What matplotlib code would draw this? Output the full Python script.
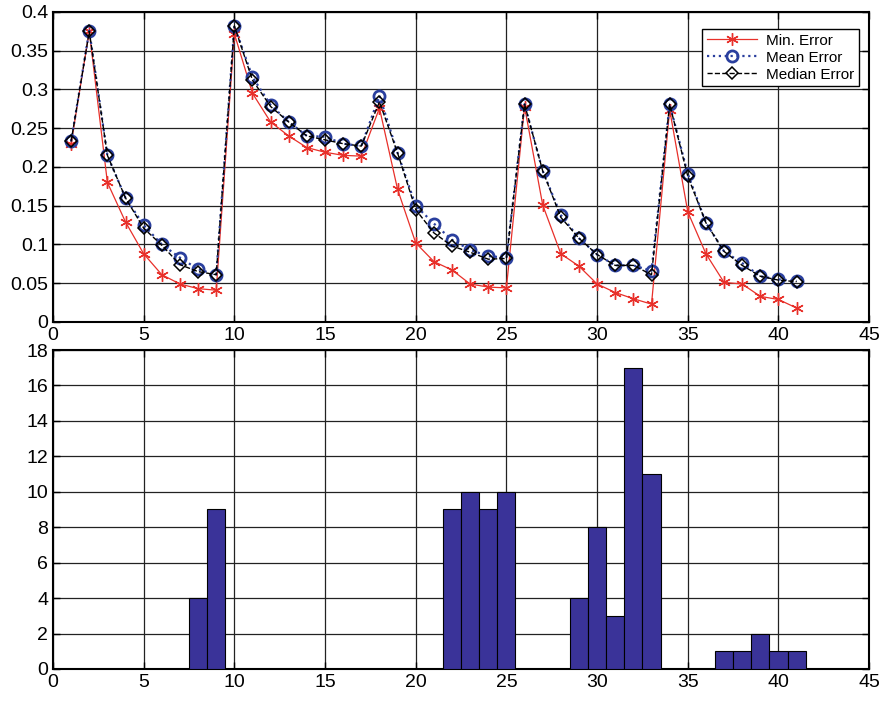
import numpy as np
import matplotlib.pyplot as plt

# top panel: error curves
x = list(range(1, 42))
min_err = [0.230, 0.375, 0.180, 0.129, 0.088, 0.061, 0.049, 0.043, 0.041,
           0.372, 0.295, 0.258, 0.240, 0.225, 0.219, 0.215, 0.214,
           0.276, 0.171, 0.102, 0.078, 0.067, 0.049, 0.045, 0.044,
           0.278, 0.151, 0.088, 0.072, 0.049, 0.038, 0.030, 0.023,
           0.274, 0.142, 0.088, 0.051, 0.049, 0.033, 0.029, 0.018]
mean_err = [0.233, 0.376, 0.215, 0.160, 0.125, 0.100, 0.083, 0.068, 0.061,
            0.382, 0.316, 0.280, 0.258, 0.240, 0.239, 0.230, 0.227,
            0.292, 0.218, 0.150, 0.127, 0.106, 0.093, 0.085, 0.083,
            0.281, 0.195, 0.138, 0.108, 0.087, 0.073, 0.073, 0.066,
            0.281, 0.191, 0.128, 0.091, 0.076, 0.059, 0.055, 0.053]
median_err = [0.233, 0.375, 0.215, 0.160, 0.121, 0.099, 0.074, 0.065, 0.061,
              0.382, 0.312, 0.278, 0.258, 0.240, 0.235, 0.230, 0.227,
              0.284, 0.218, 0.145, 0.115, 0.098, 0.090, 0.081, 0.082,
              0.281, 0.195, 0.135, 0.108, 0.087, 0.073, 0.073, 0.061,
              0.281, 0.188, 0.128, 0.091, 0.073, 0.059, 0.054, 0.052]

# bottom panel: histogram counts
bar_x = [8, 9, 22, 23, 24, 25, 29, 30, 31, 32, 33, 37, 38, 39, 40, 41]
bar_h = [4, 9, 9, 10, 9, 10, 4, 8, 3, 17, 11, 1, 1, 2, 1, 1]

plt.rcParams['font.family'] = ['Liberation Sans', 'DejaVu Sans']

fig = plt.figure(figsize=(8.92, 7.01), dpi=100)
ax1 = fig.add_axes([0.0594, 0.5407, 0.915, 0.4422])
ax2 = fig.add_axes([0.0594, 0.0457, 0.915, 0.455])

ax1.plot(x, min_err, '-', color='#e8302a', lw=0.9, marker=(6, 2, 0), ms=9,
         mew=1.0, label='Min. Error', zorder=3)
ax1.plot(x, mean_err, ':', color='#2a3f9e', lw=1.6, marker='o', ms=8,
         mfc='none', mew=2.0, label='Mean Error', zorder=4)
ax1.plot(x, median_err, '--', color='black', lw=1.0, marker='D', ms=6,
         mfc='none', mew=1.1, label='Median Error', zorder=5)
ax1.set_xlim(0, 45)
ax1.set_ylim(0, 0.4)
ax1.set_xticks(range(0, 46, 5))
ax1.set_yticks(np.arange(0, 0.41, 0.05))
ax1.set_yticklabels(['0', '0.05', '0.1', '0.15', '0.2', '0.25', '0.3', '0.35', '0.4'])
leg = ax1.legend(loc='upper right', prop={'size': 11},
                 fancybox=False, edgecolor='black', framealpha=1,
                 borderpad=0.3, labelspacing=0.2, handlelength=3.3,
                 handletextpad=0.6, bbox_to_anchor=(0.997, 0.97))
leg.get_frame().set_linewidth(1.0)

ax2.bar(bar_x, bar_h, width=1.0, color='#3a3399', edgecolor='black', lw=0.8, zorder=3)
ax2.set_xlim(0, 45)
ax2.set_ylim(0, 18)
ax2.set_xticks(range(0, 46, 5))
ax2.set_yticks(range(0, 19, 2))

for ax in (ax1, ax2):
    ax.grid(True, color='#222222', lw=0.9, ls='-', zorder=0)
    ax.set_axisbelow(True)
    ax.tick_params(direction='in', top=True, right=True, length=5,
                   labelsize=14, width=1.0)
    for s in ax.spines.values():
        s.set_linewidth(1.5)

fig.savefig('out.png', dpi=100)
